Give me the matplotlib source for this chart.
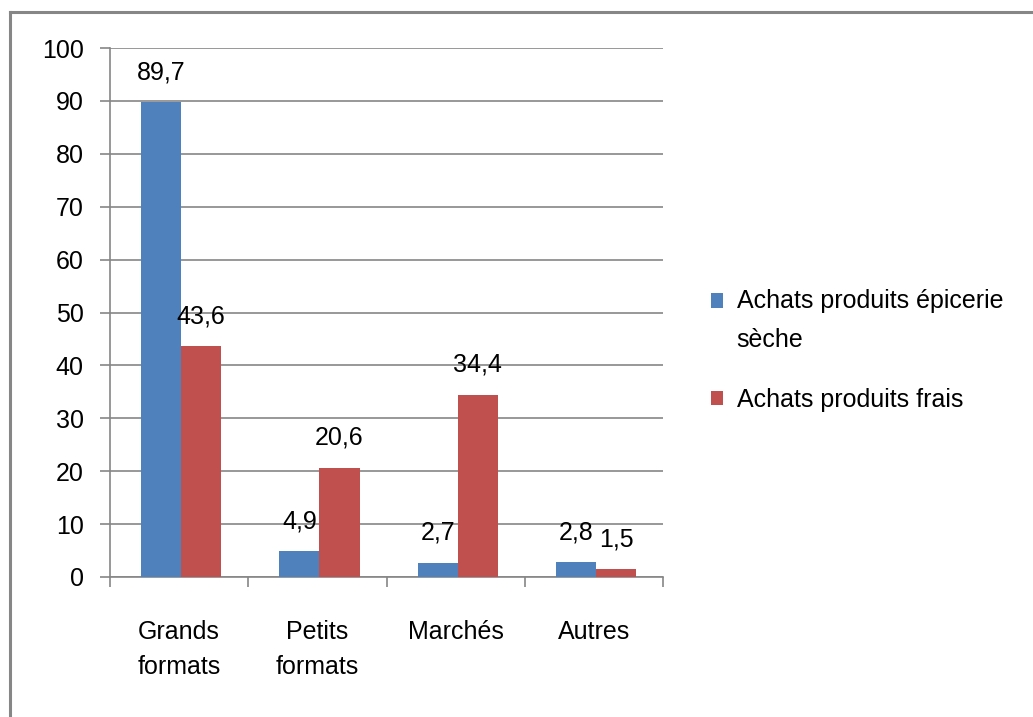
import matplotlib.pyplot as plt
import matplotlib.lines as mlines
from matplotlib.patches import Rectangle
from matplotlib.legend_handler import HandlerPatch, update_from_first_child
import numpy as np

categories = ["Grands\nformats", "Petits\nformats", "Marchés", "Autres"]
seche = [89.7, 4.9, 2.7, 2.8]
frais = [43.6, 20.6, 34.4, 1.5]
seche_labels = ["89,7", "4,9", "2,7", "2,8"]
frais_labels = ["43,6", "20,6", "34,4", "1,5"]
series_names = ["Achats produits épicerie\nsèche", "Achats produits frais"]

plt.rcParams['font.family'] = ['Liberation Sans Narrow', 'Liberation Sans', 'DejaVu Sans']

blue = "#4F81BD"
red = "#C0504D"
grey = "#868686"

fig = plt.figure(figsize=(10.33, 7.17), dpi=100)
ax = fig.add_axes([110 / 1033, 140 / 717, 553 / 1033, 529 / 717])

# outer frame (only left and top edges visible)
fig.add_artist(mlines.Line2D([10 / 1033, 10 / 1033], [0, 1 - 11.5 / 717], color=grey, lw=2.2))
fig.add_artist(mlines.Line2D([10 / 1033, 1], [1 - 11.5 / 717, 1 - 11.5 / 717], color=grey, lw=2.2))

location = np.arange(len(categories)) + 0.5
w = 0.29
b1 = ax.bar(location - w / 2 + 0.015, seche, width=w, color=blue, zorder=3, label=series_names[0])
b2 = ax.bar(location + w / 2 + 0.015, frais, width=w, color=red, zorder=3, label=series_names[1])

for x, v, t in zip(location - w / 2 + 0.015, seche, seche_labels):
    ax.annotate(t, (x, v), xytext=(0, 13), textcoords="offset points",
                ha="center", va="bottom", fontsize=18)
for x, v, t in zip(location + w / 2 + 0.015, frais, frais_labels):
    ax.annotate(t, (x, v), xytext=(0, 13), textcoords="offset points",
                ha="center", va="bottom", fontsize=18)

ax.set_xlim(0, 4)
ax.set_ylim(0, 100)
ax.set_yticks(np.arange(0, 101, 10))
ax.yaxis.grid(True, color=grey, lw=1.2, zorder=0)
ax.tick_params(axis="y", length=7, width=1.2, color=grey, pad=12, labelsize=18)

ax.set_xticks(np.arange(0, 5))
ax.set_xticklabels([])
ax.tick_params(axis="x", which="major", length=7, width=1.2, color=grey)
ax.set_xticks(location, minor=True)
ax.set_xticklabels(categories, minor=True, fontsize=18, linespacing=1.6)
ax.tick_params(axis="x", which="minor", length=0, pad=31)

for s in ["top", "right"]:
    ax.spines[s].set_visible(False)
for s in ["left", "bottom"]:
    ax.spines[s].set_color(grey)
    ax.spines[s].set_linewidth(1.2)


# legend square of the two-line entry sits on its first line
def first_line_patch(legend, orig_handle, xdescent, ydescent, width, height, fontsize):
    return Rectangle((-xdescent, -ydescent + 14.5), width, height)


leg = fig.legend(handles=[b1, b2], loc="upper left", bbox_to_anchor=(688 / 1033, 1 - 266 / 717),
                 frameon=False, fontsize=18, handlelength=0.5, handleheight=0.5,
                 handletextpad=0.55, labelspacing=1.45,
                 handler_map={b1: HandlerPatch(patch_func=first_line_patch,
                                               update_func=update_from_first_child)})
for t in leg.get_texts():
    t.set_linespacing(1.8)

fig.savefig("out.png", dpi=100)
